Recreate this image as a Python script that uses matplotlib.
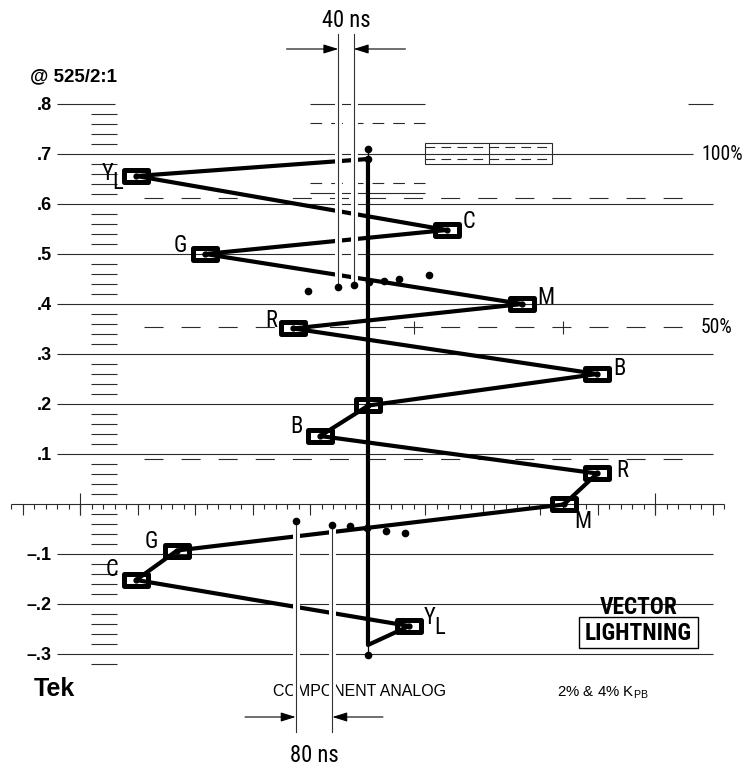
import os

import matplotlib
matplotlib.use("Agg")
import matplotlib.pyplot as plt
import matplotlib.patheffects as pe
import numpy as np
from matplotlib import font_manager
from matplotlib.font_manager import FontProperties
from matplotlib.markers import MarkerStyle
from matplotlib.patches import Rectangle
from matplotlib.path import Path
from matplotlib.textpath import TextPath

plt.rcParams["lines.scale_dashes"] = False

# x = horizontal graticule ticks from centre, y = luma in volts
luma_top = 0.69
luma_bottom = -0.282
target_x = [-20.14, 6.84, -14.17, 13.43, -6.5, 19.93, 0.04, -4.16, 19.93, 17.03, -16.6, -20.16, 3.58]
target_y = [0.656, 0.548, 0.50, 0.40, 0.351, 0.26, 0.197, 0.136, 0.061, -0.001, -0.093, -0.152, -0.244]
target_names = ["YL", "C", "G", "M", "R", "B", "", "B", "R", "M", "G", "C", "YL"]

# timing dots (top: 40 ns, bottom: 80 ns)
top_dots_x = [-5.19, -2.58, -1.24, 0.09, 1.39, 2.70, 5.33]
top_dots_y = [0.426, 0.433, 0.438, 0.443, 0.446, 0.449, 0.457]
bot_dots_x = [-6.29, -3.10, -1.54, -0.06, 1.59, 3.19]
bot_dots_y = [-0.033, -0.041, -0.044, -0.047, -0.053, -0.057]

levels = [0.8, 0.7, 0.6, 0.5, 0.4, 0.3, 0.2, 0.1, -0.1, -0.2, -0.3]
level_labels = [".8", ".7", ".6", ".5", ".4", ".3", ".2", ".1", "\u2013.1", "\u2013.2", "\u2013.3"]
pct_level_100 = 0.7
pct_level_50 = 0.353
dash_levels = [0.612, 0.353, 0.089]
short_dash_levels = [0.762, 0.642]
short_solid_levels = [0.622]


def weight_num(w):
    if isinstance(w, str):
        return font_manager.weight_dict.get(w, 400)
    return int(w)


def pick_condensed():
    """Look for a narrow sans face (regular + bold); None if there is none."""
    entries = font_manager.fontManager.ttflist
    ranked = ["Liberation", "Arial", "Roboto", "Noto Sans", "Open Sans", "DejaVu Sans"]
    found = {}
    for f in entries:
        base = os.path.basename(f.fname).lower()
        narrow = (str(f.stretch) in ("condensed", "semi-condensed", "extra-condensed")
                  or "narrow" in f.name.lower() or "condensed" in f.name.lower()
                  or "narrow" in base or "condensed" in base)
        if not narrow or f.style != "normal":
            continue
        if any(s in f.name for s in ("Mono", "Serif", "CJK")) or "mono" in base or "serif" in base:
            continue
        rank = next((i for i, r in enumerate(ranked) if r in f.name), len(ranked))
        w = weight_num(f.weight)
        slot = found.setdefault((rank, f.name), {})
        if 350 <= w <= 450:
            slot["regular"] = f.fname
        elif 650 <= w <= 750:
            slot["bold"] = f.fname
    for key in sorted(found):
        slot = found[key]
        if "regular" in slot:
            return slot["regular"], slot.get("bold", slot["regular"])
    return None


names = {f.name for f in font_manager.fontManager.ttflist}
REG = "Liberation Sans" if "Liberation Sans" in names else "DejaVu Sans"
cond = pick_condensed()


def narrow(cap_px, bold=False):
    """Narrow face sized so that a capital is cap_px pixels tall (dpi 100)."""
    if cond is None:
        fp = FontProperties(family=REG, weight="bold" if bold else "normal")
    else:
        fp = FontProperties(fname=cond[1] if bold else cond[0])
    ink = TextPath((0, 0), "H", size=100, prop=fp).get_extents().height / 100.0
    fp.set_size(cap_px * 0.72 / ink)
    return fp


fig = plt.figure(figsize=(7.47, 7.66), dpi=100)
ax = fig.add_axes([0, 0, 1, 1])
ax.set_xlim(-32.0, 32.96)
ax.set_ylim(-0.524, 1.008)
ax.axis("off")
renderer = fig.canvas.get_renderer()


def fit(t, width_px):
    # shrink a text only when it runs clearly wider than in the reference
    width_px *= 1.15
    w = t.get_window_extent(renderer).width
    if w > width_px:
        t.set_fontsize(t.get_fontsize() * width_px / w)
    return t


grat = dict(color="#2b2b2b", lw=0.8, zorder=1)

# main horizontal graticule
for lvl in levels:
    if lvl == 0.8:
        ax.hlines(lvl, -27, -22, **grat)
        ax.hlines(lvl, -5, 5, **grat)
        ax.hlines(lvl, 27.8, 30, **grat)
    elif lvl == 0.7:
        ax.hlines(lvl, -27, 28.3, **grat)
    else:
        ax.hlines(lvl, -27, 30, **grat)
for lvl, lab in zip(levels, level_labels):
    ax.text(-27.5, lvl, lab, ha="right", va="center_baseline", fontsize=13,
            fontweight="bold", family=REG)

for lvl in dash_levels:
    ax.plot([-19.5, 27.6], [lvl, lvl], color="#2b2b2b", lw=0.8, ls=(0, (13.7, 13.0)), zorder=1)
for lvl in short_dash_levels:
    ax.plot([-5, 5], [lvl, lvl], color="#2b2b2b", lw=0.8, ls=(0, (8.4, 6.5)), zorder=1)
for lvl in short_solid_levels:
    ax.hlines(lvl, -5, 5, **grat)

# plus marks on the 50% line
for px in [4, 17]:
    ax.vlines(px, pct_level_50 - 0.013, pct_level_50 + 0.013, **grat)

# 100% tolerance box
ax.add_patch(Rectangle((4.96, 0.68), 11.04, 0.0425, fill=False, ec="#2b2b2b", lw=0.8, zorder=1))
for lvl in [0.7146, 0.6906]:
    ax.plot([4.96, 16.0], [lvl, lvl], color="#2b2b2b", lw=0.8, ls=(0, (7, 4.5)), zorder=1)
ax.vlines(10.5, 0.68, 0.7225, **grat)

# left luma scale
idx = np.arange(-16, 40)
scale = idx[idx % 5 != 0] * 0.02
ax.hlines(scale, -24.1, -21.85, **grat)

# horizontal axis with ticks
k = np.arange(-31, 32)
ax.hlines(0, -31, 31, **grat)
ax.vlines(k, -0.010, 0, **grat)
ax.vlines(k[k % 5 == 0], -0.022, 0, **grat)
ax.vlines([-25, 25], -0.022, 0.022, **grat)

# vector trace
trace_x = [0.0] + target_x + [0.0, 0.0]
trace_y = [luma_top] + target_y + [luma_bottom, luma_top]
ax.plot(trace_x, trace_y, color="black", lw=3.0, solid_joinstyle="round",
        solid_capstyle="round", zorder=3)
ax.plot([0, 0], [luma_top, 0.71], color="black", lw=0.9, zorder=3)
ax.plot([0, 0], [luma_bottom, -0.302], color="black", lw=0.9, zorder=3)
ax.plot([0, 0, 0], [luma_top, 0.71, -0.302], ls="none", marker="o", ms=4.5,
        color="black", zorder=3)

box_path = Path([(-1, -0.48), (1, -0.48), (1, 0.48), (-1, 0.48), (-1, -0.48)],
                [Path.MOVETO, Path.LINETO, Path.LINETO, Path.LINETO, Path.CLOSEPOLY])
box_marker = MarkerStyle(box_path, joinstyle="round")
ax.plot(target_x, target_y, ls="none", marker=box_marker, ms=17.3, mew=3.6,
        mfc="none", mec="black", zorder=4)
ax.plot(target_x, target_y, ls="none", marker="o", ms=3.5, color="black", zorder=4)

# letter labels, offsets in pixels from the target (centre of the letter)
offsets = [(-29, 2), (22, 8), (-25, 8), (23.5, 6), (-22, 8), (22, 5), None,
           (-24, 9.5), (25, 3), (19, -17), (-25.5, 9), (-24, 10), (20, 8)]
letter_font = narrow(16)
for x, y, name, off in zip(target_x, target_y, target_names, offsets):
    if not name:
        continue
    ax.annotate(name[0], (x, y), xytext=off, textcoords="offset pixels", ha="center",
                va="center", fontproperties=letter_font, zorder=5)
    if name == "YL":
        ax.annotate("L", (x, y), xytext=(off[0] + 5, off[1] - 9), textcoords="offset pixels",
                    ha="left", va="center", fontproperties=letter_font, zorder=5)

# timing reference lines (knock out what they cross)
halo = [pe.withStroke(linewidth=5, foreground="white")]
for x, y in zip(top_dots_x[1:3], top_dots_y[1:3]):
    ax.plot([x, x], [y, 0.94], color="#333333", lw=0.8, path_effects=halo, zorder=6)
for x, y in zip(bot_dots_x[0:2], bot_dots_y[0:2]):
    ax.plot([x, x], [y, -0.455], color="#333333", lw=0.8, path_effects=halo, zorder=6)

ax.plot(top_dots_x, top_dots_y, ls="none", marker="o", ms=4.5, color="black", zorder=7)
ax.plot(bot_dots_x, bot_dots_y, ls="none", marker="o", ms=4.5, color="black", zorder=7)

arrow = dict(arrowstyle="-|>,head_length=0.9,head_width=0.28", lw=0.8, color="black",
             shrinkA=0, shrinkB=0)
ax.annotate("", xy=(top_dots_x[1], 0.91), xytext=(top_dots_x[1] - 4.5, 0.91), arrowprops=arrow, zorder=7)
ax.annotate("", xy=(top_dots_x[2], 0.91), xytext=(top_dots_x[2] + 4.5, 0.91), arrowprops=arrow, zorder=7)
ax.annotate("", xy=(bot_dots_x[0], -0.426), xytext=(bot_dots_x[0] - 4.4, -0.426), arrowprops=arrow, zorder=7)
ax.annotate("", xy=(bot_dots_x[1], -0.426), xytext=(bot_dots_x[1] + 4.4, -0.426), arrowprops=arrow, zorder=7)

fit(ax.text((top_dots_x[1] + top_dots_x[2]) / 2, 0.966, "40 ns", ha="center", va="center",
            fontproperties=narrow(16)), 48)
fit(ax.text((bot_dots_x[0] + bot_dots_x[1]) / 2, -0.503, "80 ns", ha="center", va="center",
            fontproperties=narrow(16)), 47)

# annotations
ax.text(-29.4, 0.854, "@ 525/2:1", ha="left", va="center", fontsize=13.5,
        fontweight="bold", family=REG)
fit(ax.text(29.04, pct_level_100, "100%", ha="left", va="center",
            fontproperties=narrow(14)), 41)
fit(ax.text(28.96, pct_level_50, "50%", ha="left", va="center",
            fontproperties=narrow(14)), 34)
ax.text(-29.1, -0.37, "Tek", ha="left", va="center", fontsize=18, fontweight="bold", family=REG)
ax.text(-0.7, -0.375, "COMPONENT ANALOG", ha="center", va="center", fontsize=11.5,
        family=REG, zorder=5)
ax.text(16.4, -0.377, "2% & 4% K$_{\\mathregular{PB}}$", ha="left", va="center",
        fontsize=10.8, family=REG)
fit(ax.text(23.5, -0.206, "VECTOR", ha="center", va="center",
            fontproperties=narrow(16.5, bold=True)), 80)
fit(ax.text(23.5, -0.258, "LIGHTNING", ha="center", va="center",
            fontproperties=narrow(16.5, bold=True)), 107)
ax.add_patch(Rectangle((18.35, -0.288), 10.35, 0.062, fill=False, ec="black", lw=1.0, zorder=2))

fig.savefig("out.png", dpi=100, facecolor="white")
